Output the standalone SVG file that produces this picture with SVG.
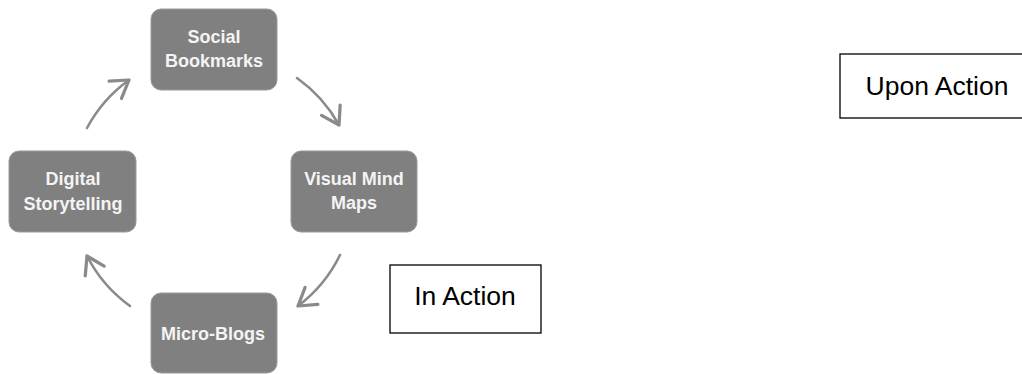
<svg xmlns="http://www.w3.org/2000/svg" width="1022" height="374" viewBox="0 0 1022 374">
<style>
.node rect{fill:#808080;stroke:#9a9a9a;stroke-width:1}
.node text{font-family:"Liberation Sans",Arial,sans-serif;font-weight:bold;font-size:18px;fill:#f4f4f4;text-anchor:middle}
.conn path{fill:none;stroke:#8a8a8a;stroke-width:2.6;stroke-linecap:round}
.label rect{fill:#ffffff;stroke:#000000;stroke-width:1.3}
.label text{font-family:"Liberation Sans",Arial,sans-serif;font-size:26.5px;fill:#000000;text-anchor:middle}
</style>
<defs>
<marker id="head" markerUnits="userSpaceOnUse" markerWidth="30" markerHeight="30" refX="0" refY="0" viewBox="-16 -12 20 24" orient="auto">
<path d="M -13.5,-8.5 L 0,0 L -13.5,8.5" fill="none" stroke="#8a8a8a" stroke-width="2.6" stroke-linecap="round" stroke-linejoin="round"/>
</marker>
</defs>
<rect width="1022" height="374" fill="#ffffff"/>
<g class="conn" id="connectors">
<path d="M 87,128 A 141,141 0 0 1 129,80" marker-end="url(#head)"/>
<path d="M 297,78 A 141,141 0 0 1 339,125" marker-end="url(#head)"/>
<path d="M 340,255 A 141,141 0 0 1 298,306" marker-end="url(#head)"/>
<path d="M 130,306 A 141,141 0 0 1 87,256" marker-end="url(#head)"/>
</g>
<g class="node" id="social-bookmarks">
<rect x="151" y="9" width="126" height="81" rx="10"/>
<text x="214" y="43">Social</text>
<text x="214" y="67">Bookmarks</text>
</g>
<g class="node" id="visual-mind-maps">
<rect x="291" y="151" width="126" height="81" rx="10"/>
<text x="354" y="185">Visual Mind</text>
<text x="354" y="209">Maps</text>
</g>
<g class="node" id="micro-blogs">
<rect x="151" y="293" width="126" height="80" rx="10"/>
<text x="213" y="340">Micro-Blogs</text>
</g>
<g class="node" id="digital-storytelling">
<rect x="9" y="151" width="127" height="81" rx="10"/>
<text x="73" y="185">Digital</text>
<text x="73" y="210">Storytelling</text>
</g>
<g class="label" id="in-action">
<rect x="390" y="265" width="151" height="68"/>
<text x="465" y="305">In Action</text>
</g>
<g class="label" id="upon-action">
<rect x="840" y="54" width="190" height="64"/>
<text x="937" y="95">Upon Action</text>
</g>
</svg>
